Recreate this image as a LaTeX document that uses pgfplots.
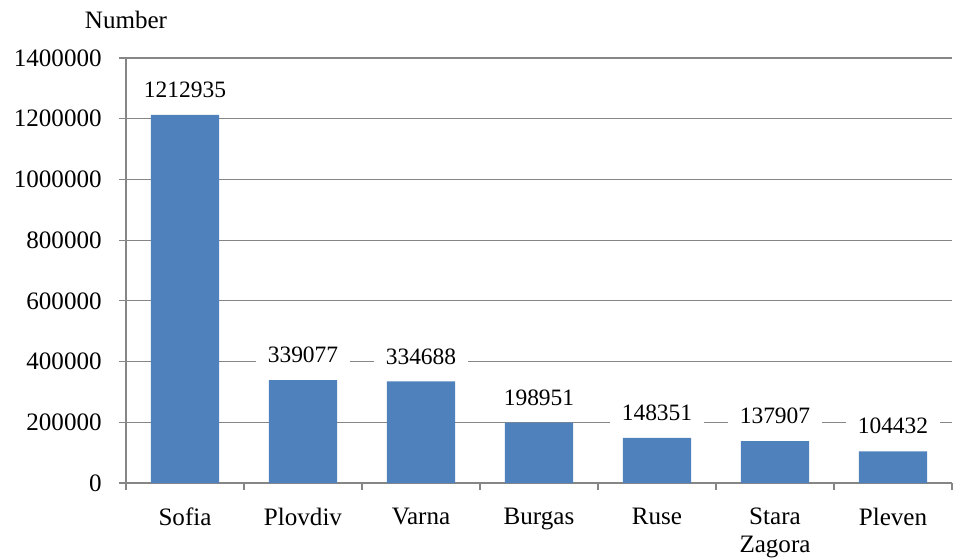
\documentclass[border=0pt]{standalone}
\usepackage{fontspec}
\setmainfont{Liberation Serif}
\usepackage{pgfplots}
\usepackage{pgfplotstable}
\pgfplotsset{compat=1.18}
\definecolor{barblue}{HTML}{4F81BD}
\definecolor{gridgray}{HTML}{868686}
\pgfplotstableread{
x y label
0 1212935 1212935
1 339077 339077
2 334688 334688
3 198951 198951
4 148351 148351
5 137907 137907
6 104432 104432
}\data
\begin{document}
\begin{tikzpicture}
\begin{axis}[
  scale only axis, width=619.5pt, height=318.75pt,
  xmin=-0.5, xmax=6.5, ymin=0, ymax=1400000,
  axis x line*=bottom, axis y line*=left,
  axis line style={draw=gridgray, line width=0.9pt},
  every tick/.style={gridgray, line width=0.9pt},
  tick align=outside, major tick length=5.25pt,
  ymajorgrids, grid style={gridgray, line width=0.9pt},
  ytick={0,200000,...,1400000},
  scaled y ticks=false,
  /pgf/number format/.cd, fixed, 1000 sep={}, assume math mode=true, /pgfplots/.cd,
  yticklabel style={font=\fontsize{18.8}{22}\selectfont, xshift=-9.5pt},
  xtick={-0.5,0.5,...,6.5}, xticklabels={{},{},{},{},{},{},{},{}},
  extra x ticks={0,1,2,3,4,5,6},
  extra x tick labels={Sofia,Plovdiv,Varna,Burgas,Ruse,{Stara\\Zagora},Pleven},
  extra x tick style={major tick length=0pt, xticklabel style={align=center, font=\fontsize{18.8}{21}\selectfont, yshift=-15pt}},
  clip=false,
]
\addplot[ybar, bar width=0.58, fill=barblue, draw=none,
  nodes near coords, point meta=explicit symbolic,
  nodes near coords style={fill=white, text=black, inner xsep=9pt, inner ysep=2pt, anchor=center, yshift=18.75pt, font=\fontsize{17.6}{20}\selectfont}]
  table[x=x, y=y, meta=label]{\data};
\node[font=\fontsize{18.8}{22}\selectfont] at (rel axis cs:0,1) [yshift=28.5pt] {Number};
\end{axis}
\pgfresetboundingbox
\path (-94.5pt,-56.25pt) rectangle (621pt,362.25pt);
\end{tikzpicture}
\end{document}
